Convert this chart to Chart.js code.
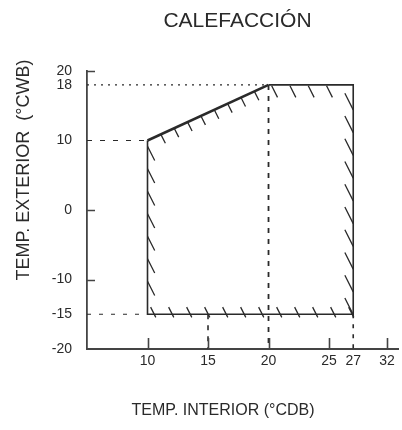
<!DOCTYPE html>
<html><head><meta charset="utf-8">
<script src="https://cdn.jsdelivr.net/npm/chart.js@4"></script>
<style>html,body{margin:0;padding:0;background:#fff}#wrap{width:402px;height:430px;position:relative}</style>
</head><body><div id="wrap"><canvas id="c" width="402" height="430"></canvas></div>
<script>
// ---- texts ----
const titleText = 'CALEFACCIÓN';
const xTitleText = 'TEMP. INTERIOR (°CDB)';
const yTitleText = 'TEMP. EXTERIOR  (°CWB)';
// ---- tick labels ----
const xTickValues = [10, 15, 20, 25, 27, 29.8];
const xTickLabels = ['10', '15', '20', '25', '27', '32'];
const yTickValues = [-20, -15, -10, 0, 10, 18, 20];
const yTickLabels = ['-20', '-15', '-10', '0', '10', '18', '20'];
const xTickMarks = [10, 15, 20, 25, 29.8];
const yTickMarks = [20, 0, -10];
// ---- operating range outline ----
const outlineX = [10, 20, 27, 27, 10, 10];
const outlineY = [10, 18, 18, -15, -15, 10];
// ---- guide lines ----
const guide18X = [5, 20],  guide18Y = [18, 18];
const guide10X = [5, 10],  guide10Y = [10, 10];
const guideM15X = [5, 10], guideM15Y = [-15, -15];
const guideV20X = [20, 20], guideV20Y = [18, -20];
const guideV15X = [15, 15], guideV15Y = [-15, -20];
const guideV27X = [27, 27], guideV27Y = [-15, -20];

const pts = (xs, ys) => xs.map((x, i) => ({x, y: ys[i]}));
const INK = '#2a2a2a';
const FONT = '"Liberation Sans", Arial, Helvetica, sans-serif';

// hatch style per outline edge (pixel styling only)
const hatchStyle = [
  {start: 14.7, step: 14.7, count: 8, from: 0, to: 10},
  {start: 2.7, step: 18.3, count: 4, from: 1, to: 14},
  {start: 25, step: 22.75, count: 10, from: -18.6, to: 0},
  {start: 1, step: 18, count: 12, from: -8, to: 3.5},
  {start: 33, step: 22.5, count: 7, from: 0, to: 16}
];
const hatchDir = {x: 0.45, y: 0.893};

const decor = {
  id: 'decor',
  afterDatasetsDraw(chart) {
    const ctx = chart.ctx;
    const xs = chart.scales.x, ys = chart.scales.y;
    const meta = chart.getDatasetMeta(0);
    const p = meta.data;
    ctx.save();
    ctx.strokeStyle = INK;
    ctx.lineWidth = 1.3;
    ctx.lineCap = 'butt';
    ctx.beginPath();
    hatchStyle.forEach((h, i) => {
      const a = p[i], b = p[i + 1];
      const L = Math.hypot(b.x - a.x, b.y - a.y);
      const ux = (b.x - a.x) / L, uy = (b.y - a.y) / L;
      for (let k = 0; k < h.count; k++) {
        const t = h.start + k * h.step;
        if (t > L + 0.5) break;
        const ax = a.x + ux * t, ay = a.y + uy * t;
        ctx.moveTo(ax + hatchDir.x * h.from, ay + hatchDir.y * h.from);
        ctx.lineTo(ax + hatchDir.x * h.to, ay + hatchDir.y * h.to);
      }
    });
    ctx.stroke();
    // tick marks (inward)
    ctx.strokeStyle = '#444';
    ctx.lineWidth = 1.6;
    ctx.beginPath();
    const left = chart.chartArea.left, bottom = chart.chartArea.bottom;
    yTickMarks.forEach(v => {
      const py = Math.round(ys.getPixelForValue(v)) + 0.5;
      ctx.moveTo(left, py); ctx.lineTo(left + 8, py);
    });
    xTickMarks.forEach(v => {
      const px = Math.round(xs.getPixelForValue(v)) + 0.5;
      ctx.moveTo(px, bottom); ctx.lineTo(px, bottom - 11);
    });
    ctx.stroke();
    ctx.restore();
  },
  afterDraw(chart) {
    const ctx = chart.ctx;
    ctx.save();
    ctx.fillStyle = INK;
    ctx.textAlign = 'center';
    ctx.textBaseline = 'middle';
    ctx.font = '21px ' + FONT;
    ctx.fillText(titleText, 237.5, 21);
    ctx.font = '16px ' + FONT;
    ctx.fillText(xTitleText, 223, 411);
    ctx.translate(24, 170);
    ctx.rotate(-Math.PI / 2);
    ctx.font = '18px ' + FONT;
    ctx.fillText(yTitleText, 0, 0);
    ctx.restore();
  }
};

const guide = (xs, ys, dash, w) => ({
  data: pts(xs, ys), showLine: true, borderColor: INK, borderWidth: w,
  borderDash: dash, pointRadius: 0, fill: false
});

new Chart(document.getElementById('c'), {
  type: 'scatter',
  data: {
    datasets: [
      {
        data: pts(outlineX, outlineY), showLine: true, borderColor: INK,
        borderWidth: 1.6, pointRadius: 0, fill: false, tension: 0,
        segment: {borderWidth: c => c.p0DataIndex === 0 ? 2.6 : 1.6}
      },
      guide(guide18X, guide18Y, [2, 5], 1.2),
      guide(guide10X, guide10Y, [5, 8], 1.2),
      guide(guideM15X, guideM15Y, [4, 8], 1.2),
      guide(guideV20X, guideV20Y, [5, 6], 1.8),
      guide(guideV15X, guideV15Y, [5, 6], 1.6),
      guide(guideV27X, guideV27Y, [4, 6], 1.6)
    ]
  },
  options: {
    responsive: false, devicePixelRatio: 1, animation: false,
    layout: {padding: {top: 71, left: 0, right: 4, bottom: 0}},
    plugins: {legend: {display: false}, title: {display: false}, tooltip: {enabled: false}},
    scales: {
      x: {
        type: 'linear', min: 5, max: 30.7,
        afterBuildTicks: s => { s.ticks = xTickValues.map(v => ({value: v})); },
        afterFit: s => { s.height = 81; },
        grid: {display: false},
        border: {display: true, color: '#444', width: 2},
        ticks: {autoSkip: false, maxRotation: 0, padding: -4, color: INK,
          font: {family: FONT, size: 14},
          callback: (v, i) => xTickLabels[i]}
      },
      y: {
        type: 'linear', min: -20, max: 20,
        afterBuildTicks: s => { s.ticks = yTickValues.map(v => ({value: v})); },
        afterFit: s => { s.width = 87; },
        grid: {display: false},
        border: {display: true, color: '#444', width: 1.8},
        ticks: {autoSkip: false, padding: 7, color: INK,
          font: {family: FONT, size: 14},
          callback: (v, i) => yTickLabels[i]}
      }
    }
  },
  plugins: [decor]
});
</script>
</body></html>
